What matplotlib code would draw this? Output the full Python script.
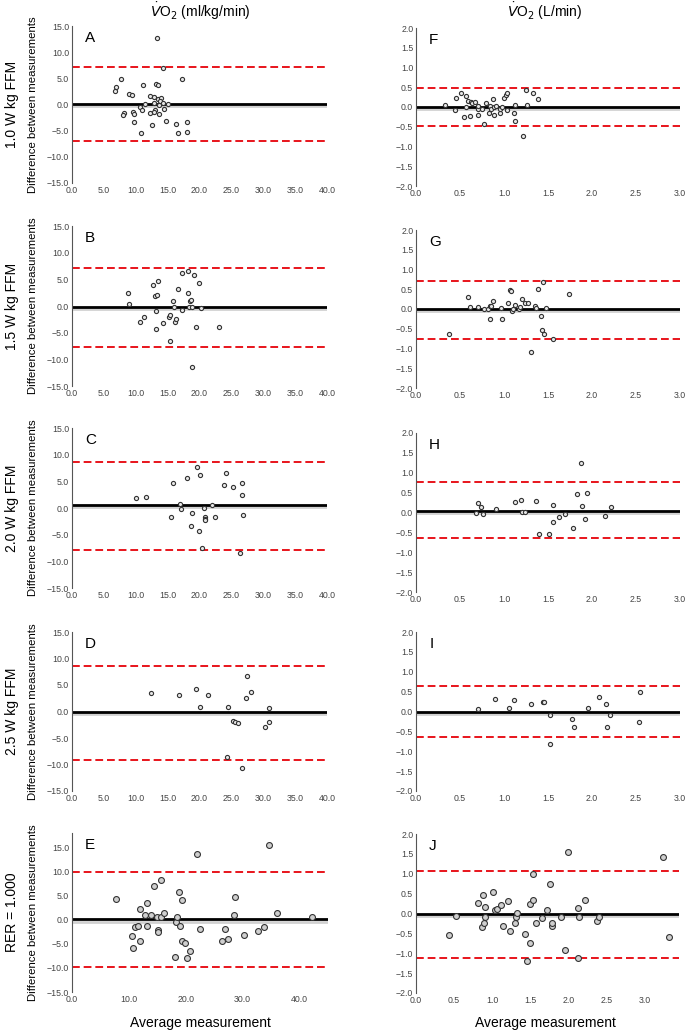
import matplotlib
matplotlib.use('Agg')
import matplotlib.pyplot as plt
import matplotlib.patheffects as pe

plt.rcParams['font.family'] = ['Liberation Sans', 'DejaVu Sans']

# Panel A - 1.0 W/kg FFM, ml/kg/min
a_avg = [13.4, 14.2, 7.7, 17.3, 6.9, 6.8, 11.1, 13.1, 13.5, 9.0, 9.4, 12.2, 12.8, 13.5,
         14.0, 13.8, 14.2, 11.5, 12.9, 13.6, 15.0, 10.6, 11.0, 13.0, 14.4, 12.3, 12.8,
         13.6, 9.5, 9.7, 8.1, 8.0, 9.7, 12.6, 14.7, 16.3, 18.0, 10.8, 16.6, 18.1]
a_diff = [12.8, 6.9, 4.9, 4.8, 3.4, 2.5, 3.8, 3.9, 3.8, 2.1, 1.9, 1.7, 1.4, 1.0,
          1.3, 0.6, 0.3, 0.1, 0.2, 0.0, 0.1, -0.4, -1.1, -1.1, -0.8, -1.7, -1.5,
          -1.8, -1.5, -1.8, -1.7, -2.1, -3.4, -3.9, -3.2, -3.7, -3.4, -5.5, -5.5, -5.3]
a_bias, a_loa = 0.1, [7.25, -7.0]

# Panel B - 1.5 W/kg FFM
b_avg = [8.8, 8.95, 10.6, 11.3, 12.7, 13.5, 13.0, 13.3, 13.1, 13.1, 14.2, 15.2, 15.4,
         15.4, 15.8, 16.0, 16.1, 16.3, 16.6, 17.2, 17.3, 18.2, 18.2, 18.5, 18.6, 18.4,
         18.9, 18.8, 19.1, 19.4, 19.9, 20.2, 23.1]
b_diff = [2.4, 0.4, -3.0, -2.1, 3.9, 4.6, 1.9, 2.1, -0.9, -4.4, -3.1, -2.1, -1.75,
          -6.5, 0.9, -0.2, -3.0, -2.4, 3.25, -0.8, 6.1, 6.6, 2.4, 0.9, 1.1, -0.2,
          -0.2, -11.5, 5.75, -3.9, 4.25, -0.3, -3.9]
b_bias, b_loa = -0.25, [7.2, -7.6]

# Panel C - 2.0 W/kg FFM
c_avg = [10.0, 11.6, 15.5, 15.9, 17.0, 17.15, 18.0, 18.6, 18.9, 19.6, 19.9, 20.1, 20.4,
         20.65, 20.8, 20.8, 20.8, 21.9, 22.5, 23.9, 24.2, 25.3, 26.4, 26.7, 26.7, 26.8]
c_diff = [1.9, 2.0, -1.75, 4.6, 0.75, -0.2, 5.6, -3.4, -0.9, 7.6, -4.4, 6.25, -7.5,
          0.0, -1.75, -2.1, -2.3, 0.5, -1.75, 4.4, 6.6, 3.9, -8.5, 4.6, 2.5, -1.4]
c_bias, c_loa = 0.55, [8.7, -7.8]

# Panel D - 2.5 W/kg FFM
d_avg = [12.4, 16.8, 19.4, 20.1, 21.4, 24.3, 24.5, 25.25, 25.5, 26.1, 26.6, 27.3, 27.45,
         28.1, 30.2, 30.85, 30.95]
d_diff = [3.4, 3.1, 4.25, 0.9, 3.1, -8.5, 0.9, -1.7, -2.0, -2.1, -10.7, 2.6, 6.75,
          3.6, -3.0, -1.9, 0.75]
d_bias, d_loa = -0.05, [8.6, -9.1]

# Panel E - RER = 1.000
e_avg = [7.7, 10.5, 10.8, 11.0, 11.6, 11.9, 12.0, 12.8, 13.1, 13.1, 13.9, 14.5, 15.0,
         15.2, 15.2, 15.6, 15.7, 16.1, 18.1, 18.3, 18.45, 18.8, 19.0, 19.3, 19.4, 19.9,
         20.2, 20.7, 21.9, 22.5, 26.3, 26.9, 27.4, 28.4, 28.6, 30.2, 32.7, 33.75, 34.7,
         36.0, 42.1]
e_diff = [4.4, -3.3, -5.9, -1.5, -1.4, 2.15, -4.4, 1.0, -1.3, 3.5, 0.9, 7.1, 0.5,
          -2.2, -2.5, 8.2, 0.5, 1.5, -7.7, -0.5, 0.6, 5.8, -1.3, -4.4, 4.0, -4.9,
          -8.0, -6.5, 13.6, -2.0, -4.5, -2.0, -4.0, 1.0, 4.7, -3.2, -2.4, -1.5, 15.6,
          1.5, 0.55]
e_bias, e_loa = 0.05, [10.0, -9.8]

# Panel F - 1.0 W/kg FFM, L/min
f_avg = [0.33, 0.44, 0.45, 0.51, 0.57, 0.59, 0.62, 0.64, 0.67, 0.57, 0.55, 0.61, 0.70,
         0.70, 0.71, 0.75, 0.77, 0.80, 0.84, 0.83, 0.85, 0.87, 0.89, 0.89, 0.91, 0.95,
         0.96, 0.98, 1.00, 1.02, 1.03, 1.03, 1.11, 1.12, 1.12, 1.22, 1.25, 1.26, 1.33, 1.39]
f_diff = [0.05, -0.07, 0.23, 0.36, 0.29, 0.16, 0.13, 0.11, 0.12, 0.01, -0.26, -0.22, -0.19,
          -0.04, 0.03, -0.04, -0.43, 0.10, 0.03, -0.14, -0.05, 0.19, -0.01, -0.21, 0.02, -0.16,
          -0.06, -0.01, 0.22, 0.31, 0.36, -0.08, -0.14, 0.04, -0.35, -0.74, 0.43, 0.04, 0.36, 0.21]
f_bias, f_loa = 0.01, [0.47, -0.47]

# Panel G - 1.5 W/kg FFM
g_avg = [0.38, 0.59, 0.61, 0.71, 0.77, 0.82, 0.84, 0.85, 0.84, 0.87, 0.97, 0.98, 1.04,
         1.07, 1.08, 1.09, 1.10, 1.13, 1.17, 1.18, 1.21, 1.24, 1.27, 1.35, 1.36, 1.31,
         1.39, 1.42, 1.43, 1.44, 1.45, 1.48, 1.56, 1.74]
g_diff = [-0.63, 0.30, 0.05, 0.05, 0.01, 0.0, 0.08, 0.07, -0.25, 0.20, 0.03, -0.25, 0.14,
          0.47, 0.46, -0.05, 0.01, 0.11, -0.01, 0.06, 0.25, 0.14, 0.16, 0.08, 0.03, -1.09,
          0.50, -0.18, -0.52, 0.69, -0.63, 0.03, -0.75, 0.37]
g_bias, g_loa = -0.01, [0.70, -0.76]

# Panel H - 2.0 W/kg FFM
h_avg = [0.68, 0.71, 0.74, 0.76, 0.91, 1.12, 1.19, 1.21, 1.24, 1.36, 1.40, 1.51, 1.56,
         1.56, 1.63, 1.69, 1.78, 1.83, 1.88, 1.89, 1.92, 1.94, 2.15, 2.22]
h_diff = [0.0, 0.23, 0.13, -0.03, 0.08, 0.27, 0.31, 0.02, 0.02, 0.29, -0.53, -0.55, 0.19,
          -0.24, -0.11, -0.04, -0.40, 0.46, 1.24, 0.17, -0.17, 0.50, -0.08, 0.13]
h_bias, h_loa = 0.04, [0.77, -0.65]

# Panel I - 2.5 W/kg FFM
i_avg = [0.70, 0.90, 1.06, 1.11, 1.31, 1.44, 1.46, 1.52, 1.52, 1.77, 1.80, 1.95, 2.08,
         2.16, 2.17, 2.20, 2.53, 2.54]
i_diff = [0.06, 0.31, 0.08, 0.28, 0.20, 0.23, 0.24, -0.09, -0.83, -0.18, -0.39, 0.09, 0.37,
          0.19, -0.40, -0.08, -0.26, 0.50]
i_bias, i_loa = 0.0, [0.65, -0.65]

# Panel J - RER = 1.000
j_avg = [0.43, 0.53, 0.81, 0.88, 0.90, 0.87, 0.89, 0.90, 1.01, 1.03, 1.06, 1.12, 1.14,
         1.21, 1.23, 1.30, 1.31, 1.32, 1.43, 1.45, 1.50, 1.50, 1.53, 1.53, 1.58, 1.65,
         1.72, 1.76, 1.78, 1.78, 1.90, 1.95, 1.99, 2.13, 2.14, 2.13, 2.22, 2.38, 2.40,
         3.24, 3.32]
j_diff = [-0.55, -0.07, 0.26, 0.46, 0.16, -0.34, -0.25, -0.10, 0.53, 0.08, 0.11, 0.22, -0.31,
          0.31, -0.43, -0.24, -0.08, 0.01, -0.52, -1.19, 0.24, -0.73, 0.34, 1.00, -0.23, -0.11,
          0.08, 0.75, -0.32, -0.25, -0.08, -0.92, 1.54, 0.14, -0.10, -1.11, 0.34, -0.18, -0.08,
          1.41, -0.60]
j_bias, j_loa = -0.02, [1.08, -1.13]

row_labels = ['1.0 W kg FFM', '1.5 W kg FFM', '2.0 W kg FFM', '2.5 W kg FFM', 'RER = 1.000']
col_titles = [r'$\dot{V}$O$_2$ (ml/kg/min)', r'$\dot{V}$O$_2$ (L/min)']

left_panels = [
    ('A', a_avg, a_diff, a_bias, a_loa),
    ('B', b_avg, b_diff, b_bias, b_loa),
    ('C', c_avg, c_diff, c_bias, c_loa),
    ('D', d_avg, d_diff, d_bias, d_loa),
    ('E', e_avg, e_diff, e_bias, e_loa),
]
right_panels = [
    ('F', f_avg, f_diff, f_bias, f_loa),
    ('G', g_avg, g_diff, g_bias, g_loa),
    ('H', h_avg, h_diff, h_bias, h_loa),
    ('I', i_avg, i_diff, i_bias, i_loa),
    ('J', j_avg, j_diff, j_bias, j_loa),
]

W, H = 685, 1032
fig = plt.figure(figsize=(W / 100, H / 100), dpi=100)

# axes boxes in pixels: (left, top, right, bottom)
left_boxes = [(72, 26, 327, 183), (72, 226, 327, 386), (72, 428, 327, 588),
              (72, 632, 327, 791), (72, 833, 328, 992)]
right_boxes = [(416, 28, 680, 186), (416, 230, 680, 388), (416, 433, 680, 592),
               (416, 632, 680, 791), (416, 834, 679, 993)]


def px_axes(box):
	l, t, r, b = box
	return fig.add_axes([l / W, 1 - b / H, (r - l) / W, (b - t) / H])


def draw_panel(ax, letter, avg, diff, bias, loa, big=False):
	ax.axhline(bias, color='black', lw=2.0, zorder=2,
	           path_effects=[pe.SimpleLineShadow(offset=(0, -1.5), shadow_color='0.82', alpha=1),
	                         pe.Normal()])
	for v in loa:
		ax.axhline(v, color='#e8141b', lw=1.4, ls=(0, (4, 2)), zorder=2)
	ms = 18 if big else 9
	fc = '#cfcfcf' if big else '#e6e6e6'
	ax.scatter(avg, diff, s=ms, facecolor=fc, edgecolor='#333333', lw=0.8, zorder=3)
	for s in ['top', 'right', 'bottom']:
		ax.spines[s].set_visible(False)
	ax.spines['left'].set_color('#555555')
	ax.tick_params(length=0, labelsize=6.3, labelcolor='#444444', pad=2)
	ax.text(0.05, 0.97, letter, transform=ax.transAxes, fontsize=11, va='top', ha='left')


for k, (letter, avg, diff, bias, loa) in enumerate(left_panels):
	ax = px_axes(left_boxes[k])
	draw_panel(ax, letter, avg, diff, bias, loa, big=(letter == 'E'))
	if letter == 'E':
		ax.set_xlim(0, 45)
		ax.set_xticks([0, 10, 20, 30, 40])
		ax.set_ylim(-15, 18)
	else:
		ax.set_xlim(0, 40)
		ax.set_xticks([0, 5, 10, 15, 20, 25, 30, 35, 40])
		ax.set_ylim(-15, 15)
	ax.set_yticks([-15, -10, -5, 0, 5, 10, 15])
	ax.xaxis.set_major_formatter('{x:.1f}')
	ax.yaxis.set_major_formatter('{x:.1f}')

for k, (letter, avg, diff, bias, loa) in enumerate(right_panels):
	ax = px_axes(right_boxes[k])
	draw_panel(ax, letter, avg, diff, bias, loa, big=(letter == 'J'))
	if letter == 'J':
		ax.set_xlim(0, 3.45)
	else:
		ax.set_xlim(0, 3.0)
	ax.set_xticks([0, 0.5, 1.0, 1.5, 2.0, 2.5, 3.0])
	ax.set_ylim(-2, 2)
	ax.set_yticks([-2, -1.5, -1, -0.5, 0, 0.5, 1, 1.5, 2])
	ax.xaxis.set_major_formatter('{x:.1f}')
	ax.yaxis.set_major_formatter('{x:.1f}')

# row labels
for k, lab in enumerate(row_labels):
	l, t, r, b = left_boxes[k]
	yc = 1 - ((t + b) / 2) / H
	fig.text(12 / W, yc, lab, rotation=90, ha='center', va='center', fontsize=10)
	fig.text(33 / W, yc, 'Difference between measurements', rotation=90, ha='center',
	         va='center', fontsize=8.2)

fig.text(200 / W, 1 - 11 / H, col_titles[0], ha='center', va='center', fontsize=10)
fig.text(545 / W, 1 - 11 / H, col_titles[1], ha='center', va='center', fontsize=10)
fig.text(200 / W, 1 - 1023 / H, 'Average measurement', ha='center', va='center', fontsize=10)
fig.text(545 / W, 1 - 1023 / H, 'Average measurement', ha='center', va='center', fontsize=10)

fig.savefig('out.png', dpi=100, facecolor='white')
